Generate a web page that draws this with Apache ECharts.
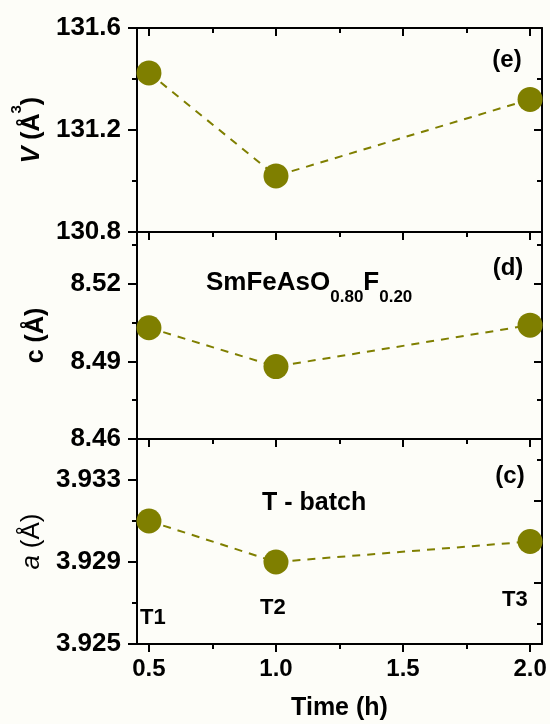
<!DOCTYPE html>
<html>
<head>
<meta charset="utf-8">
<script src="https://cdn.jsdelivr.net/npm/echarts@6.0.0/dist/echarts.min.js"></script>
<style>
  html, body { margin: 0; padding: 0; background: #fdfdf8; }
  #chart { width: 550px; height: 724px; }
</style>
</head>
<body>
<div id="chart"></div>
<script>
// data
const times = [0.5, 1.0, 2.0];
const volV = [131.424, 131.02, 131.32];
const latC = [8.503, 8.488, 8.504];
const latA = [3.931, 3.929, 3.930];

// tick values
const xMajor = [0.5, 1.0, 1.5, 2.0];
const xMinor = [0.75, 1.25, 1.75];
const vMajor = [130.8, 131.2, 131.6];
const vMinor = [131.0, 131.4];
const cMajor = [8.46, 8.49, 8.52];
const cMinor = [8.475, 8.505, 8.535];
const aMajor = [3.925, 3.929, 3.933];
const aMinor = [3.927, 3.931, 3.935];
const aRightMajor = [3.928, 3.932];
const aRightMinor = [3.926, 3.930, 3.934];

const FONT = "'Liberation Sans', Arial, sans-serif";
const OLIVE = '#7f7f00';
const line = { color: '#000', width: 2 };

const chart = echarts.init(document.getElementById('chart'));

const gridBase = { left: 137, width: 405, containLabel: false, outerBoundsMode: 'none' };
const grids = [
  Object.assign({ top: 28, height: 204 }, gridBase),
  Object.assign({ top: 232, height: 207 }, gridBase),
  Object.assign({ top: 439, height: 205 }, gridBase)
];

const xAxes = [];
const yAxes = [];

function tickAxis(base, vals, len, inside, showLine) {
  return Object.assign({
    type: 'value',
    axisLine: { show: showLine, onZero: false, lineStyle: line },
    axisTick: { show: true, inside: inside, length: len, lineStyle: line, customValues: vals },
    axisLabel: { show: false },
    splitLine: { show: false }
  }, base);
}

// x axes, returns main (bottom) index
function addX(gi, withLabels) {
  const ext = { gridIndex: gi, min: 0.453, max: 2.047 };
  const mainIdx = xAxes.length;
  const bottom = tickAxis(Object.assign({ position: 'bottom' }, ext), xMajor, 8, false, true);
  if (withLabels) {
    bottom.axisLabel = {
      show: true, customValues: xMajor, margin: 13,
      fontFamily: FONT, fontWeight: 'bold', fontSize: 24, color: '#000',
      formatter: v => v.toFixed(1)
    };
    bottom.name = 'Time (h)';
    bottom.nameLocation = 'middle';
    bottom.nameGap = 52;
    bottom.nameTextStyle = { fontFamily: FONT, fontWeight: 'bold', fontSize: 25, color: '#000' };
  } else {
    bottom.axisTick.show = false;
  }
  xAxes.push(bottom);
  if (withLabels) {
    xAxes.push(tickAxis(Object.assign({ position: 'bottom' }, ext), xMinor, 5, false, false));
  }
  xAxes.push(tickAxis(Object.assign({ position: 'top' }, ext), xMajor, 8, true, true));
  xAxes.push(tickAxis(Object.assign({ position: 'top' }, ext), xMinor, 5, true, false));
  return mainIdx;
}

function addY(gi, min, max, major, minor, rMajor, rMinor, digits, name, rich, gap) {
  const ext = { gridIndex: gi, min: min, max: max };
  const mainIdx = yAxes.length;
  const left = tickAxis(Object.assign({ position: 'left' }, ext), major, 9, false, true);
  left.axisLabel = {
    show: true, customValues: major, margin: 16,
    fontFamily: FONT, fontWeight: 'bold', fontSize: 26, color: '#000',
    formatter: v => v.toFixed(digits)
  };
  left.name = name;
  left.nameLocation = 'middle';
  left.nameGap = gap;
  left.nameTextStyle = { fontFamily: FONT, fontWeight: 'bold', fontSize: 24, color: '#000', rich: rich };
  yAxes.push(left);
  yAxes.push(tickAxis(Object.assign({ position: 'left' }, ext), minor, 5, false, false));
  yAxes.push(tickAxis(Object.assign({ position: 'right' }, ext), rMajor, 8, true, true));
  yAxes.push(tickAxis(Object.assign({ position: 'right' }, ext), rMinor, 5, true, false));
  return mainIdx;
}

const nameBase = { fontFamily: FONT, fontSize: 25, color: '#000', lineHeight: 28, verticalAlign: 'top' };
const supBase = { fontFamily: FONT, fontSize: 25, color: '#000', lineHeight: 36, verticalAlign: 'bottom' };

const xe = addX(0, false);
const ye = addY(0, 130.8, 131.6, vMajor, vMinor, vMajor, vMinor, 1,
  '{i|V} {b|(Å}{sup|3}{b|)}',
  {
    i: Object.assign({}, supBase, { fontWeight: 'bold', fontStyle: 'italic' }),
    b: Object.assign({}, supBase, { fontWeight: 'bold' }),
    sup: Object.assign({}, supBase, { fontWeight: 'bold', fontSize: 15, verticalAlign: 'top' })
  }, 81);
const xd = addX(1, false);
const yd = addY(1, 8.46, 8.54, cMajor, cMinor, cMajor, cMinor, 2,
  '{b|c (Å)}',
  { b: Object.assign({}, nameBase, { fontWeight: 'bold' }) }, 85);
const xc = addX(2, true);
const yc = addY(2, 3.925, 3.935, aMajor, aMinor, aRightMajor, aRightMinor, 3,
  '{i|a} {n|(Å)}',
  {
    i: Object.assign({}, nameBase, { fontWeight: 'normal', fontStyle: 'italic', fontSize: 26 }),
    n: Object.assign({}, nameBase, { fontWeight: 'normal', fontSize: 26 })
  }, 80);

function pts(ys) {
  return times.map((t, i) => [t, ys[i]]);
}

function series(xi, yi, ys) {
  return {
    type: 'line',
    xAxisIndex: xi,
    yAxisIndex: yi,
    data: pts(ys),
    symbol: 'circle',
    symbolSize: 25,
    itemStyle: { color: OLIVE },
    lineStyle: { color: OLIVE, width: 2, type: [8, 7] },
    animation: false,
    z: 5
  };
}

const txt = { fontFamily: FONT, fontWeight: 'bold', fill: '#000' };

function label(x, y, text, size, align) {
  return {
    type: 'text', x: x, y: y, z: 10,
    style: Object.assign({}, txt, {
      text: text, fontSize: size, align: align || 'left', verticalAlign: 'middle'
    })
  };
}

const option = {
  backgroundColor: '#fdfdf8',
  animation: false,
  grid: grids,
  xAxis: xAxes,
  yAxis: yAxes,
  series: [
    series(xe, ye, volV),
    series(xd, yd, latC),
    series(xc, yc, latA)
  ],
  graphic: [
    label(507, 60, '(e)', 24, 'center'),
    label(508, 268, '(d)', 24, 'center'),
    label(510, 476, '(c)', 24, 'center'),
    {
      type: 'text', x: 206, y: 270, z: 10,
      style: {
        text: '{m|SmFeAsO}{s|0.80}{m|F}{s|0.20}',
        verticalAlign: 'top',
        rich: {
          m: { fontFamily: FONT, fontWeight: 'bold', fontSize: 26, lineHeight: 36, verticalAlign: 'top', fill: '#000' },
          s: { fontFamily: FONT, fontWeight: 'bold', fontSize: 17, lineHeight: 36, verticalAlign: 'bottom', fill: '#000' }
        }
      }
    },
    label(262, 503, 'T - batch', 25),
    label(140, 618, 'T1', 22),
    label(260, 608, 'T2', 22),
    label(502, 600, 'T3', 22)
  ]
};

chart.setOption(option);
</script>
</body>
</html>
